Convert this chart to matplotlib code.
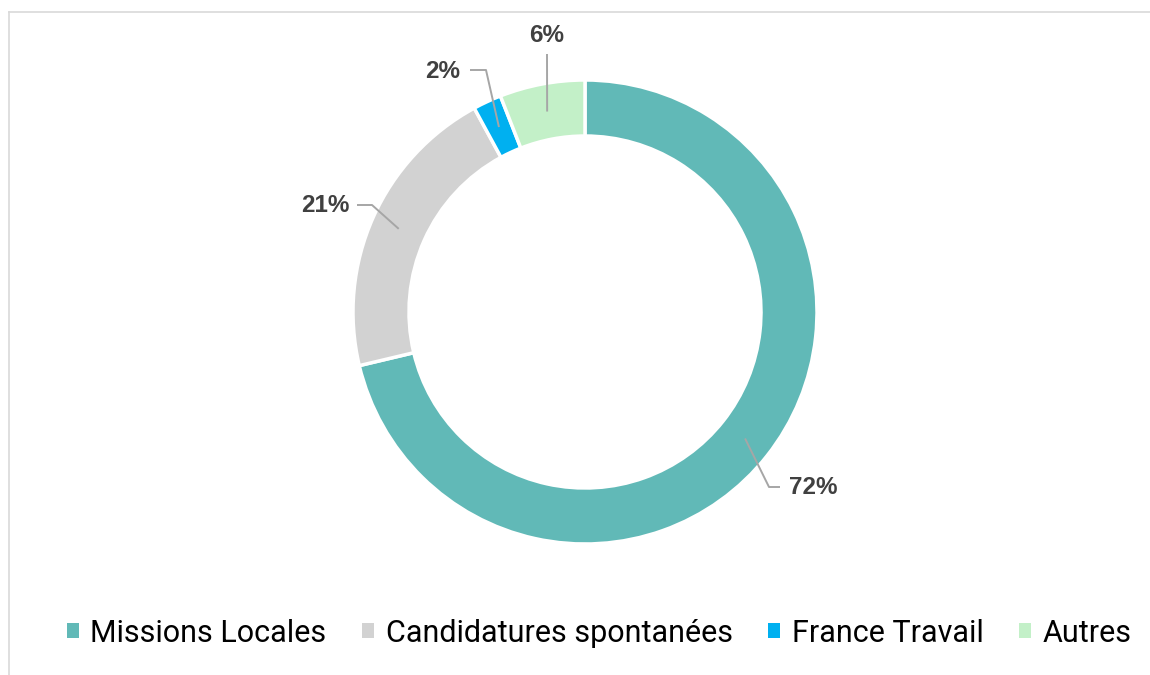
import matplotlib.pyplot as plt
import numpy as np
from matplotlib.patches import Patch

categories = ['Missions Locales', 'Candidatures spontanées', 'France Travail', 'Autres']
values = [72, 21, 2, 6]
labels = ['72%', '21%', '2%', '6%']
colors = ['#61B9B7', '#D2D2D2', '#00B0F0', '#C3F0C8']

W, H = 1150, 675
fig = plt.figure(figsize=(11.5, 6.75), dpi=100)
ax = fig.add_axes([0, 0, 1, 1])

cx, cy = 585, H - 312
R, ring = 232, 56
wedges, _ = ax.pie(values, colors=colors, startangle=90, counterclock=False,
                   center=(cx, cy), radius=R, frame=True,
                   wedgeprops=dict(width=ring, edgecolor='white', linewidth=2.5))
ax.set_xlim(0, W)
ax.set_ylim(0, H)
ax.set_aspect('equal')
ax.axis('off')

# label text position + line path (elbow, end) in pixels from top-left
label_spec = [
    dict(text=(789, 488), ha='left', elbow=(769, 487), end=(780, 487)),
    dict(text=(349, 206), ha='right', elbow=(372, 205), end=(357, 205)),
    dict(text=(460, 72), ha='right', elbow=(486, 70), end=(470, 70)),
    dict(text=(547, 35), ha='center', elbow=None, end=(547, 54)),
]
line_col = '#A6A6A6'
for w, lab, sp in zip(wedges, labels, label_spec):
    ang = np.deg2rad((w.theta1 + w.theta2) / 2)
    rm = R - ring / 2
    pts = [(cx + rm * np.cos(ang), cy + rm * np.sin(ang))]
    if sp['elbow'] is not None:
        pts.append((sp['elbow'][0], H - sp['elbow'][1]))
    pts.append((sp['end'][0], H - sp['end'][1]))
    xs, ys = zip(*pts)
    ax.plot(xs, ys, color=line_col, lw=1.4, solid_capstyle='butt')
    ax.text(sp['text'][0], H - sp['text'][1], lab, ha=sp['ha'], va='center',
            fontsize=17.5, fontweight='bold', color='#404040', family='Liberation Sans')

# chart frame
ax.plot([8.5, 8.5], [0, H - 12], color='#D9D9D9', lw=1.2)
ax.plot([8.5, W], [H - 12, H - 12], color='#D9D9D9', lw=1.2)

handles = [Patch(facecolor=c, edgecolor='none') for c in colors]
fig.legend(handles, categories, loc='center', bbox_to_anchor=(599 / W, 1 - 633 / H),
           ncol=4, frameon=False, handlelength=0.4, handleheight=0.4,
           handletextpad=0.38, columnspacing=1.15, prop=dict(family='Roboto', size=22))

fig.savefig('out.png', dpi=100)
